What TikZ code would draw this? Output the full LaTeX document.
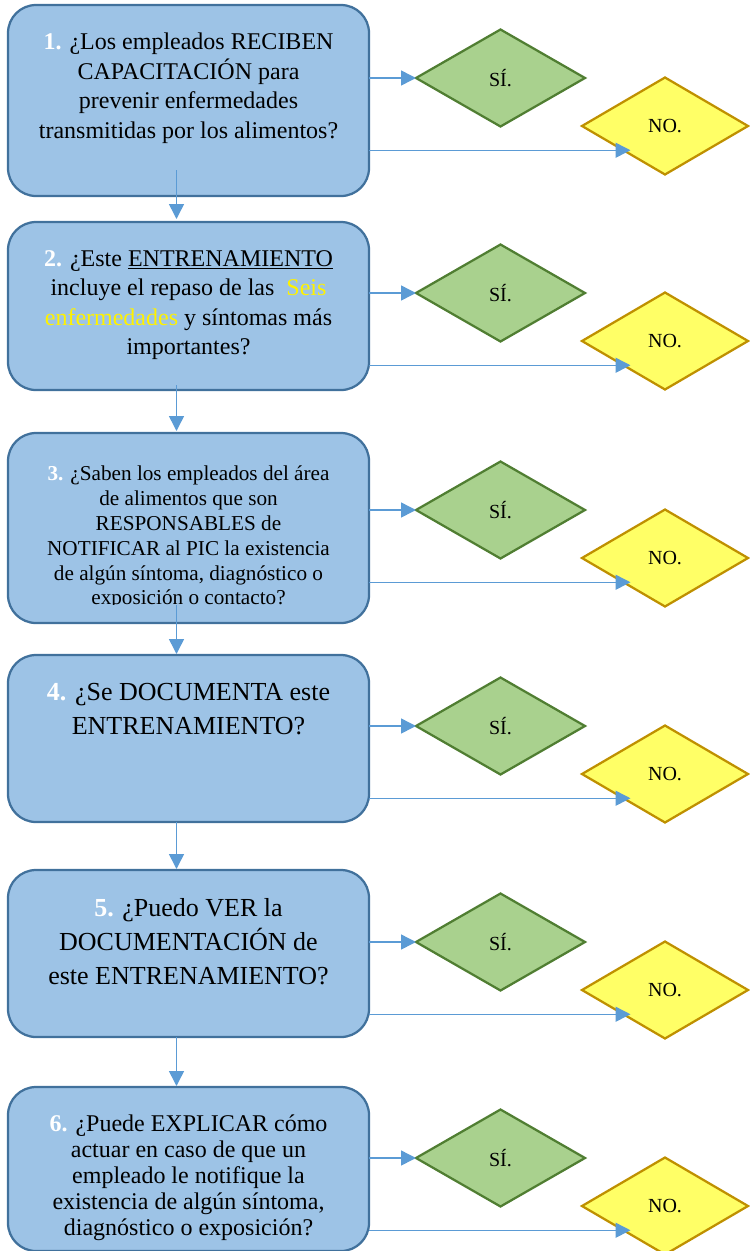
\documentclass[tikz,border=0pt]{standalone}
\usepackage{fontspec}
\setmainfont{Liberation Serif}
\usetikzlibrary{shapes.geometric, arrows.meta, positioning}

\definecolor{boxfill}{HTML}{9DC3E6}
\definecolor{boxline}{HTML}{41719C}
\definecolor{arrowline}{HTML}{5B9BD5}
\definecolor{sifill}{HTML}{A9D18E}
\definecolor{siline}{HTML}{507E32}
\definecolor{nofill}{HTML}{FFFF66}
\definecolor{noline}{HTML}{BF9000}

\begin{document}
\begin{tikzpicture}[x=1pt, y=1pt, >={Triangle[length=15pt, width=15pt]},
  qbox/.style={draw=boxline, line width=2.25pt, fill=boxfill, rounded corners=28pt, minimum width=361pt, outer sep=0pt},
  qtext/.style={align=center, inner sep=0pt},
  sibox/.style={diamond, draw=siline, line width=2.25pt, fill=sifill, minimum width=169pt, minimum height=97pt, inner sep=0pt, outer sep=0pt, font=\fontsize{20}{24}\selectfont},
  nobox/.style={diamond, draw=noline, line width=2.25pt, fill=nofill, minimum width=166pt, minimum height=97pt, inner sep=0pt, outer sep=0pt, font=\fontsize{20}{24}\selectfont},
  link/.style={->, draw=arrowline, line width=1.5pt}]

  % Seitenrahmen
  \useasboundingbox (0,0) rectangle (750,-1251);

  % Fragen untereinander
  \node[qbox, minimum height=191pt, anchor=north west] (b1) at (8,-5) {};
  \node[qbox, minimum height=168pt, below=26pt of b1] (b2) {};
  \node[qbox, minimum height=190pt, below=43pt of b2] (b3) {};
  \node[qbox, minimum height=167pt, below=32pt of b3] (b4) {};
  \node[qbox, minimum height=167pt, below=48pt of b4] (b5) {};
  \node[qbox, minimum height=164pt, below=50pt of b5] (b6) {};

  % Fragetexte
  \node[qtext, font=\fontsize{24}{29.5}\selectfont, below=28pt of b1.north] (t1)
    {\textcolor{white}{\textbf{1.}} ¿Los empleados RECIBEN\\ CAPACITACIÓN para\\ prevenir enfermedades\\ transmitidas por los alimentos?};
  \node[qtext, font=\fontsize{24}{29.5}\selectfont, below=28pt of b2.north] (t2)
    {\textcolor{white}{\textbf{2.}} ¿Este \underline{ENTRENAMIENTO}\\ incluye el repaso de las~~\textcolor{yellow}{Seis}\\ \textcolor{yellow}{enfermedades} y síntomas más\\ importantes?};
  \begin{scope}
    \clip (b3.north west) rectangle ([yshift=19pt]b3.south east);
    \node[qtext, font=\fontsize{21.2}{24.8}\selectfont, below=33pt of b3.north] (t3)
      {\textcolor{white}{\textbf{3.}} ¿Saben los empleados del área\\ de alimentos que son\\ RESPONSABLES de\\ NOTIFICAR al PIC la existencia\\ de algún síntoma, diagnóstico o\\ exposición o contacto?};
  \end{scope}
  \node[qtext, font=\fontsize{26}{34}\selectfont, below=28pt of b4.north] (t4)
    {\textcolor{white}{\textbf{4.}} ¿Se DOCUMENTA este\\ ENTRENAMIENTO?};
  \node[qtext, font=\fontsize{26}{34}\selectfont, below=28pt of b5.north] (t5)
    {\textcolor{white}{\textbf{5.}} ¿Puedo VER la\\ DOCUMENTACIÓN de\\ este ENTRENAMIENTO?};
  \node[qtext, font=\fontsize{24}{26}\selectfont, below=28pt of b6.north] (t6)
    {\textcolor{white}{\textbf{6.}} ¿Puede EXPLICAR cómo\\ actuar en caso de que un\\ empleado le notifique la\\ existencia de algún síntoma,\\ diagnóstico o exposición?};

  % Antworten SÍ / NO neben jeder Frage
  \node[sibox, right=47pt of b1.north east, yshift=-73pt] (s1) {SÍ.};
  \node[nobox, right=-3pt of s1.east, yshift=-48pt] (n1) {NO.};
  \node[sibox, right=47pt of b2.north east, yshift=-71pt] (s2) {SÍ.};
  \node[nobox, right=-3pt of s2.east, yshift=-48pt] (n2) {NO.};
  \node[sibox, right=47pt of b3.north east, yshift=-77pt] (s3) {SÍ.};
  \node[nobox, right=-3pt of s3.east, yshift=-48pt] (n3) {NO.};
  \node[sibox, right=47pt of b4.north east, yshift=-71pt] (s4) {SÍ.};
  \node[nobox, right=-3pt of s4.east, yshift=-48pt] (n4) {NO.};
  \node[sibox, right=47pt of b5.north east, yshift=-72pt] (s5) {SÍ.};
  \node[nobox, right=-3pt of s5.east, yshift=-48pt] (n5) {NO.};
  \node[sibox, right=47pt of b6.north east, yshift=-71pt] (s6) {SÍ.};
  \node[nobox, right=-3pt of s6.east, yshift=-48pt] (n6) {NO.};

  % Verbindungen nach rechts
  \draw[link] (b1.east |- s1.west) -- (s1.west);
  \draw[link, shorten >=-7pt] (b1.east |- n1.south west) -- (n1.south west);
  \draw[link] (b2.east |- s2.west) -- (s2.west);
  \draw[link, shorten >=-7pt] (b2.east |- n2.south west) -- (n2.south west);
  \draw[link] (b3.east |- s3.west) -- (s3.west);
  \draw[link, shorten >=-7pt] (b3.east |- n3.south west) -- (n3.south west);
  \draw[link] (b4.east |- s4.west) -- (s4.west);
  \draw[link, shorten >=-7pt] (b4.east |- n4.south west) -- (n4.south west);
  \draw[link] (b5.east |- s5.west) -- (s5.west);
  \draw[link, shorten >=-7pt] (b5.east |- n5.south west) -- (n5.south west);
  \draw[link] (b6.east |- s6.west) -- (s6.west);
  \draw[link, shorten >=-7pt] (b6.east |- n6.south west) -- (n6.south west);

  % Verbindungen nach unten
  \draw[link, shorten >=3pt] ([xshift=-12pt, yshift=26pt]b1.south) -- ([xshift=-12pt]b2.north);
  \draw[link, shorten >=2pt] ([xshift=-12pt, yshift=5pt]b2.south) -- ([xshift=-12pt]b3.north);
  \draw[link, shorten >=1pt] ([xshift=-12pt, yshift=18pt]b3.south) -- ([xshift=-12pt]b4.north);
  \draw[link, shorten >=1pt] ([xshift=-12pt]b4.south) -- ([xshift=-12pt]b5.north);
  \draw[link, shorten >=1pt] ([xshift=-12pt]b5.south) -- ([xshift=-12pt]b6.north);
\end{tikzpicture}
\end{document}
